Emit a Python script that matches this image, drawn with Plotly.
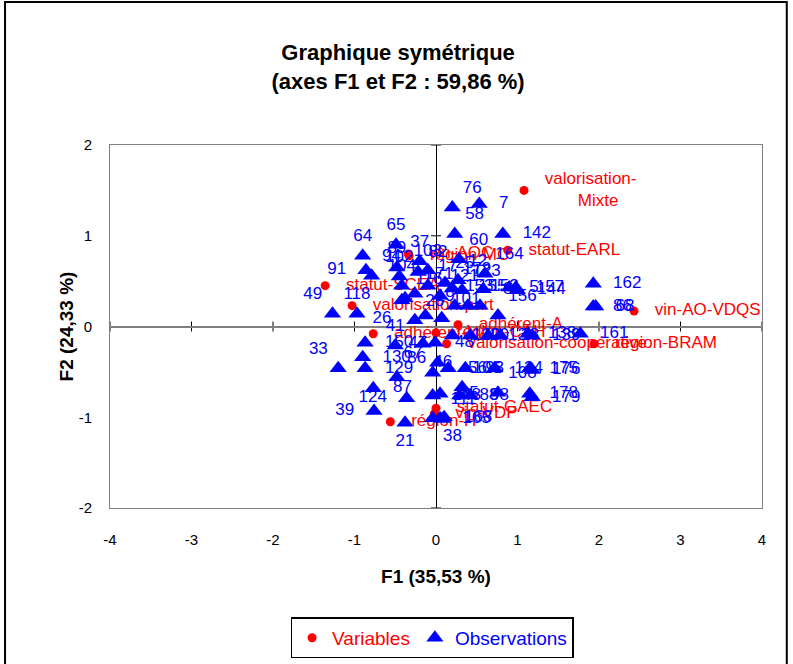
import plotly.graph_objects as go

# ---------------- data ----------------
var_labels = ["valorisation-<br>     Mixte", "statut-EARL", "vin-AOC", "région-MC", "statut-SCEA",
              "valorisation-part", "adhérent-NA", "région-CAH", "adhérent-A",
              "valorisation-coopérative", "région-BRAM", "vin-AO-VDQS", "statut-GAEC",
              "vin-VDP", "région-H"]
var_f1 = [1.08, 0.88, -0.34, -0.33, -1.36, -1.03, -0.77, 0.00, 0.27, 0.13, 1.94, 2.43, 0.00, -0.02, -0.56]
var_f2 = [1.50, 0.84, 0.80, 0.78, 0.45, 0.23, -0.08, -0.07, 0.02, -0.19, -0.19, 0.17, -0.90, -0.96, -1.05]

obs_labels = ["76", "7", "58", "142", "65", "64", "37", "103", "60", "89", "102", "104", "82", "91", "94",
              "116", "171", "17", "121", "172", "123", "153", "155", "152", "101", "19", "28", "25", "12",
              "164", "8", "5", "157", "144", "162", "86", "68", "156",
              "49", "118", "26", "150", "41", "130", "129", "36", "33", "87", "124", "39", "21", "46", "47", "67",
              "120", "20", "13", "18", "138", "139", "161", "48",
              "56", "93", "134", "175", "176",
              "148", "85", "106", "88", "98", "108", "178", "179",
              "38", "111", "165", "168"]
obs_f1 = [0.20, 0.53, 0.23, 0.82, -0.49, -0.90, -0.20, -0.10, 0.28, -0.48, -0.45, -0.42, -0.22, -0.86, -0.79,
          -0.38, -0.26, -0.10, 0.05, 0.20, 0.32, 0.23, 0.39, 0.54, 0.07, -0.13, -0.26, 0.11, 0.27,
          0.60, 0.58, 0.90, 0.98, 1.00, 1.93, 1.93, 1.96, 0.76,
          -1.27, -0.97, -0.42, -0.87, -0.50, -0.90, -0.87, -0.48, -1.20, -0.77, -0.36, -0.76, -0.38, -0.16, 0.02, -0.04,
          0.20, 0.42, 0.64, 0.79, 1.13, 1.18, 1.77, -0.01,
          0.15, 0.36, 0.72, 1.15, 1.18,
          -0.04, 0.05, 0.32, 0.29, 0.42, 0.76, 1.15, 1.18,
          -0.04, 0.05, 0.08, 0.10]
obs_f2 = [1.31, 1.35, 1.02, 1.02, 0.90, 0.78, 0.72, 0.62, 0.74, 0.65, 0.55, 0.45, 0.60, 0.62, 0.56,
          0.31, 0.36, 0.45, 0.34, 0.42, 0.40, 0.23, 0.23, 0.23, 0.09, 0.12, 0.07, 0.48, 0.51,
          0.58, 0.41, 0.43, 0.43, 0.40, 0.47, 0.22, 0.22, 0.12,
          0.14, 0.14, 0.29, -0.18, -0.21, -0.34, -0.46, -0.56, -0.46, -0.68, -0.79, -0.93, -1.06, -0.19, -0.40, -0.51,
          -0.10, -0.10, -0.10, -0.10, -0.08, -0.10, -0.08, -0.18,
          -0.46, -0.46, -0.46, -0.46, -0.48,
          -0.76, -0.74, -0.67, -0.76, -0.76, -0.73, -0.74, -0.78,
          -1.01, -1.01, -1.02, -1.00]

x_ticks = [-4, -3, -2, -1, 0, 1, 2, 3, 4]
y_ticks = [-2, -1, 0, 1, 2]

# ---------------- styling ----------------
pos_override = {"76": "top right", "58": "top right", "60": "top right", "65": "top center", "64": "top center",
                "37": "top center", "103": "top center", "89": "top center", "102": "top center",
                "104": "top center", "91": "middle left", "49": "top left", "118": "top center",
                "26": "bottom left", "41": "top center", "33": "top left", "124": "middle left",
                "39": "middle left", "21": "bottom center", "38": "bottom right", "47": "top left",
                "67": "top left", "164": "top right", "156": "top right", "36": "top right",
                "46": "bottom right", "108": "top right", "106": "top right"}
for lab in ["116", "171", "17", "121", "172", "123", "153", "155", "152", "101", "19", "28", "25", "12", "82", "94", "111"]:
    pos_override[lab] = "top right"
obs_pos = [pos_override.get(l, "middle right") for l in obs_labels]
NB = "\u00a0"
obs_text = [(NB + NB + l) if p == "middle right" else (l + NB + NB if p == "middle left" else l)
            for l, p in zip(obs_labels, obs_pos)]
var_text = [NB * 3 + l if "<br>" not in l else NB * 3 + l.replace("     ", NB * 10)
            for l in var_labels]

RED = "#FF0000"
BLUE = "#0000FF"
FONT = "Liberation Sans, Arial, sans-serif"

fig = go.Figure()
fig.add_trace(go.Scatter(
    x=var_f1, y=var_f2, mode="markers+text", text=var_text, textposition="middle right",
    textfont=dict(color=RED, size=17, family=FONT),
    marker=dict(color=RED, size=9, symbol="circle"),
    name="<span style='color:#FF0000'>Variables</span>", cliponaxis=False))
fig.add_trace(go.Scatter(
    x=obs_f1, y=obs_f2, mode="markers+text", text=obs_text, textposition=obs_pos,
    textfont=dict(color=BLUE, size=17, family=FONT),
    marker=dict(color=BLUE, size=15, symbol="triangle-up"),
    name="<span style='color:#0000FF'>Observations</span>", cliponaxis=False))

shapes = []
for xv in x_ticks:
    shapes.append(dict(type="line", xref="x", yref="y", x0=xv, x1=xv, ysizemode="pixel", yanchor=0,
                       y0=-5, y1=5, line=dict(color="black", width=1), layer="below"))
for yv in y_ticks:
    shapes.append(dict(type="line", xref="x", yref="y", y0=yv, y1=yv, xsizemode="pixel", xanchor=0,
                       x0=-5, x1=5, line=dict(color="black", width=1), layer="below"))
shapes.append(dict(type="rect", xref="paper", yref="paper", x0=-0.161, x1=1.038, y0=-0.47, y1=1.394,
                   line=dict(color="black", width=2), fillcolor="rgba(0,0,0,0)", layer="below"))

fig.update_layout(
    width=793, height=664,
    margin=dict(l=110, r=31, t=145, b=156, autoexpand=False),
    paper_bgcolor="white", plot_bgcolor="white",
    font=dict(family=FONT, size=15, color="black"),
    title=dict(text="<b>Graphique symétrique<br>(axes F1 et F2 : 59,86 %)</b>",
               x=0.502, xanchor="center", y=1 - 60 / 664, yanchor="middle", yref="container",
               font=dict(size=22, family=FONT, color="black")),
    showlegend=True,
    legend=dict(orientation="h", x=0.494, y=-0.358, xanchor="center", yanchor="middle",
                bordercolor="black", borderwidth=1.5, bgcolor="white",
                font=dict(size=19, family=FONT), itemwidth=30),
    shapes=shapes,
    xaxis=dict(range=[-4, 4], tickvals=x_ticks, ticktext=[str(v) for v in x_ticks], automargin=False,
               showgrid=False, zeroline=True, zerolinecolor="black",
               zerolinewidth=1, showline=True, linecolor="#808080", linewidth=1, mirror=True, ticks="",
               ticklabelstandoff=18, tickfont=dict(size=15),
               title=dict(text="<b>F1 (35,53 %)</b>", font=dict(size=19), standoff=22)),
    yaxis=dict(range=[-2, 2], tickvals=y_ticks, ticktext=[str(v) for v in y_ticks], automargin=False,
               showgrid=False, zeroline=True, zerolinecolor="#808080",
               zerolinewidth=1.5, showline=True, linecolor="#808080", linewidth=1, mirror=True, ticks="",
               ticklabelstandoff=14, tickfont=dict(size=15),
               title=dict(text="<b>F2 (24,33 %)</b>", font=dict(size=19), standoff=0)),
)

fig.write_html("out.html")
